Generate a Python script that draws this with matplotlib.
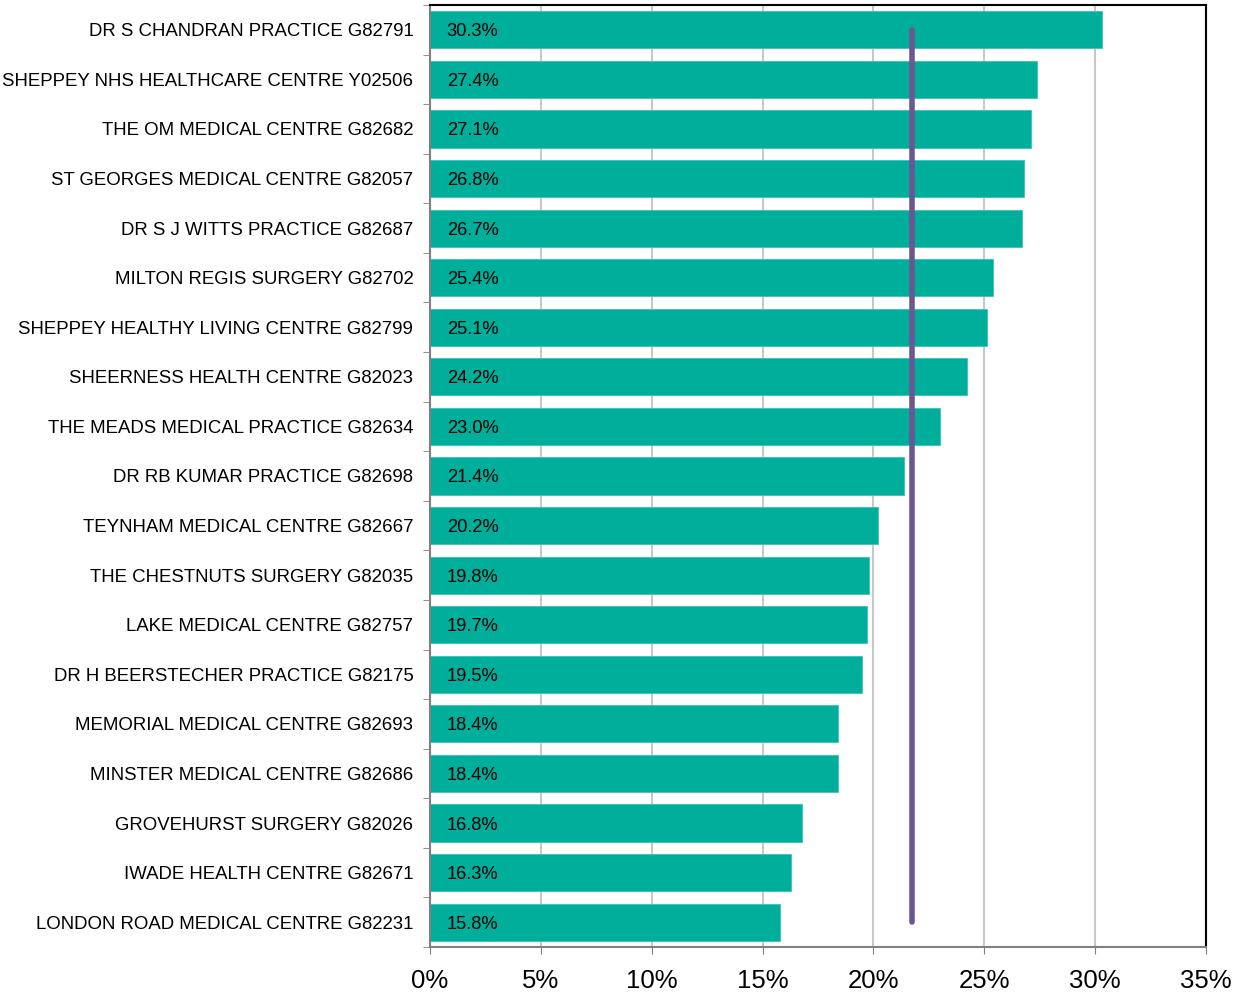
import matplotlib
matplotlib.use("Agg")
import matplotlib.pyplot as plt
from matplotlib.ticker import FuncFormatter

plt.rcParams['font.family'] = ['Liberation Sans', 'DejaVu Sans']

practices = [
    "DR S CHANDRAN PRACTICE G82791",
    "SHEPPEY NHS HEALTHCARE CENTRE Y02506",
    "THE OM MEDICAL CENTRE G82682",
    "ST GEORGES MEDICAL CENTRE G82057",
    "DR S J WITTS PRACTICE G82687",
    "MILTON REGIS SURGERY G82702",
    "SHEPPEY HEALTHY LIVING CENTRE G82799",
    "SHEERNESS HEALTH CENTRE G82023",
    "THE MEADS MEDICAL PRACTICE G82634",
    "DR RB KUMAR PRACTICE G82698",
    "TEYNHAM MEDICAL CENTRE G82667",
    "THE CHESTNUTS SURGERY G82035",
    "LAKE MEDICAL CENTRE G82757",
    "DR H BEERSTECHER PRACTICE G82175",
    "MEMORIAL MEDICAL CENTRE G82693",
    "MINSTER MEDICAL CENTRE G82686",
    "GROVEHURST SURGERY G82026",
    "IWADE HEALTH CENTRE G82671",
    "LONDON ROAD MEDICAL CENTRE G82231",
]
values = [30.3, 27.4, 27.1, 26.8, 26.7, 25.4, 25.1, 24.2, 23.0, 21.4,
          20.2, 19.8, 19.7, 19.5, 18.4, 18.4, 16.8, 16.3, 15.8]
average = 21.75
x_ticks = [0, 5, 10, 15, 20, 25, 30, 35]

fig = plt.figure(figsize=(12.34, 9.93), dpi=100)
ax = fig.add_axes([430/1234, 1-947/993, 776/1234, 942/993])

n = len(values)
ypos = list(range(n))
ax.barh(ypos, values, height=0.75, color='#00AE9C', edgecolor='#3CC4B5', linewidth=0.6, zorder=2)
for y, v in zip(ypos, values):
    ax.text(0.75, y + 0.04, f"{v:.1f}%", va='center', ha='left', fontsize=13.2, color='black', zorder=3)

ax.plot([average, average], [0, n-1], color='#6B5694', linewidth=4, solid_capstyle='round', zorder=4)

ax.set_xlim(0, 35)
ax.set_ylim(n-0.5, -0.5)
ax.set_xticks(x_ticks)
ax.xaxis.set_major_formatter(FuncFormatter(lambda v, p: f"{int(v)}%"))
ax.tick_params(axis='x', labelsize=18.5, length=5, color='#808080', direction='out', pad=11)
ax.set_yticks(ypos)
ax.set_yticklabels(practices)
ax.set_yticks([i - 0.5 for i in range(n + 1)], minor=True)
ax.tick_params(axis='y', which='major', length=0, labelsize=13.4, pad=12)
ax.tick_params(axis='y', which='minor', length=5, color='#808080', direction='out')
ax.grid(axis='x', color='#C8C8C8', linewidth=1.5, zorder=0)
ax.set_axisbelow(True)
for s in ['top', 'right']:
    ax.spines[s].set_color('black')
    ax.spines[s].set_linewidth(1.5)
for s in ['left', 'bottom']:
    ax.spines[s].set_color('#808080')
    ax.spines[s].set_linewidth(1.5)

fig.savefig("out.png", dpi=100)
